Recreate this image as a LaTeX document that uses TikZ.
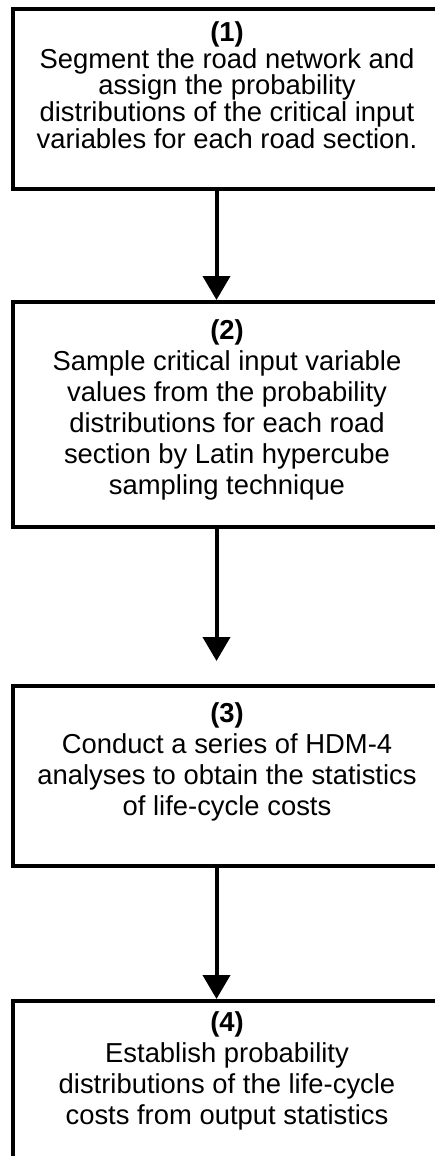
\documentclass[tikz,border=0pt]{standalone}
\usepackage{fontspec}
\setmainfont{Liberation Sans}
\usetikzlibrary{arrows.meta}
\begin{document}
\begin{tikzpicture}[x=1pt,y=1pt,
  boxstyle/.style={draw=black, line width=4pt, rectangle, minimum width=428pt, inner sep=0pt},
  txt/.style={align=center, inner sep=0pt, anchor=base, font=\fontsize{27.4}{31}\selectfont},
  txtb/.style={txt, font=\fontsize{27.4}{26.7}\selectfont},
  arr/.style={line width=4pt, -{Triangle[length=24pt,width=27pt]}}]
\useasboundingbox (0,0) rectangle (435,-1156);
\clip (0,0) rectangle (435,-1156);
\node[boxstyle, minimum height=180pt] (b1) at (227,-99) {};
\node[boxstyle, minimum height=225pt] (b2) at (227,-414.5) {};
\node[boxstyle, minimum height=180pt] (b3) at (227,-776) {};
\node[boxstyle, minimum height=180pt] (b4) at (227,-1091) {};
\node[txtb] (t1) at (227,-148.3) {\textbf{(1)}\\Segment the road network and\\assign the probability\\distributions of the critical input\\variables for each road section.};
\node[txt] (t2) at (227,-494) {\textbf{(2)}\\Sample critical input variable\\values from the probability\\distributions for each road\\section by Latin hypercube\\sampling technique};
\node[txt] (t3) at (227,-815) {\textbf{(3)}\\Conduct a series of HDM-4\\analyses to obtain the statistics\\of life-cycle costs};
\node[txt] (t4) at (227,-1124) {\textbf{(4)}\\Establish probability\\distributions of the life-cycle\\costs from output statistics};
\draw[arr] ([xshift=-10.5pt]b1.south) -- ([xshift=-10.5pt]b2.north);
\draw[arr] ([xshift=-10.5pt]b2.south) -- ([xshift=-10.5pt,yshift=23pt]b3.north);
\draw[arr] ([xshift=-10.5pt]b3.south) -- ([xshift=-10.5pt]b4.north);
\end{tikzpicture}
\end{document}
